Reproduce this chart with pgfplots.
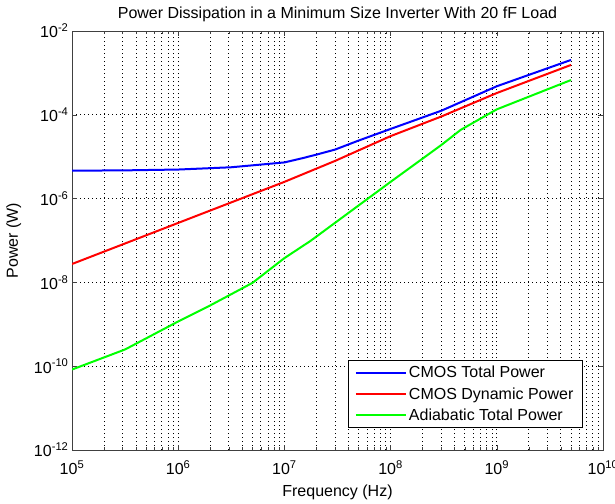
\documentclass[border=0pt]{standalone}
\usepackage{pgfplots}
\pgfplotsset{compat=1.18}
\usepackage{fontspec}
\setmainfont{Liberation Sans}
\definecolor{mblue}{RGB}{0,0,255}
\definecolor{mred}{RGB}{255,0,0}
\definecolor{mgreen}{RGB}{0,255,0}
\begin{document}
\begin{tikzpicture}
\path[use as bounding box] (-72pt,-53pt) rectangle (543pt,450pt);
\begin{axis}[
  at={(0pt,0pt)}, anchor=south west,
  scale only axis, width=531pt, height=419pt,
  xmode=log, ymode=log,
  xmin=1e5, xmax=1e10, ymin=1e-12, ymax=1e-2,
  xtick={1e5,1e6,1e7,1e8,1e9,1e10},
  xticklabels={10\textsuperscript{5},10\textsuperscript{6},10\textsuperscript{7},10\textsuperscript{8},10\textsuperscript{9},10\textsuperscript{10}},
  ytick={1e-12,1e-10,1e-8,1e-6,1e-4,1e-2},
  yticklabels={10\textsuperscript{-12},10\textsuperscript{-10},10\textsuperscript{-8},10\textsuperscript{-6},10\textsuperscript{-4},10\textsuperscript{-2}},
  minor ytick={},
  tick align=inside,
  xmajorgrids, xminorgrids, ymajorgrids,
  grid style={black, line width=0.8pt, dash pattern=on 0.8pt off 3.2pt},
  minor grid style={black, line width=0.8pt, dash pattern=on 0.8pt off 3.2pt},
  axis line style={black!75, line width=0.8pt},
  major tick length=5pt, minor tick length=3pt,
  every tick/.style={black!75},
  tick label style={font=\fontsize{16}{18}\selectfont},
  xticklabel style={yshift=-7pt},
  title={Power Dissipation in a Minimum Size Inverter With 20 fF Load},
  title style={font=\fontsize{16}{18}\selectfont, yshift=0pt},
  xlabel={Frequency (Hz)},
  ylabel={Power (W)},
  label style={font=\fontsize{16}{18}\selectfont},
  xlabel style={yshift=-3pt},
  ylabel style={yshift=6pt},
  legend cell align=left,
  legend style={at={(0.962,0.0525)}, anchor=south east, draw=black, line width=0.8pt,
    font=\fontsize{16}{18}\selectfont, row sep=4pt, inner xsep=7pt, inner ysep=4pt},
  legend image code/.code={\draw[#1] (0pt,0pt) -- (50pt,0pt);},
]
\addplot[mblue, line width=2pt] coordinates {
(1e5,4.64e-6) (3.16e5,4.72e-6) (1e6,4.94e-6) (3.16e6,5.6e-6) (1e7,7.3e-6)
(1.5e7,9.3e-6) (2e7,1.12e-5) (3e7,1.48e-5) (5e7,2.43e-5) (1e8,4.6e-5)
(3e8,1.25e-4) (1e9,4.8e-4) (5e9,2.04e-3)
};
\addlegendentry{CMOS Total Power}
\addplot[mred, line width=2pt] coordinates {
(1e5,2.75e-8) (1e6,2.63e-7) (1e7,2.51e-6) (3e7,7.94e-6) (1e8,3.1e-5) (3e8,9.1e-5) (1e9,3.31e-4) (5e9,1.55e-3)
};
\addlegendentry{CMOS Dynamic Power}
\addplot[mgreen, line width=2pt] coordinates {
(1e5,8.32e-11) (3.16e5,2.51e-10) (1e6,1.17e-9) (2e6,2.82e-9) (5.01e6,9.77e-9)
(1e7,3.8e-8) (1.76e7,9.77e-8) (1e8,2.51e-6) (3e8,1.9e-5) (4.57e8,4.37e-5) (1e9,1.35e-4) (5e9,6.76e-4)
};
\addlegendentry{Adiabatic Total Power}
\end{axis}
\end{tikzpicture}
\end{document}
